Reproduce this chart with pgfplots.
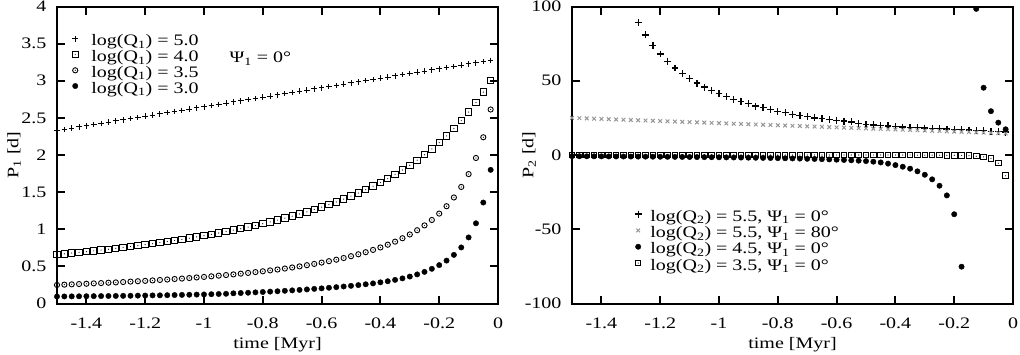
\documentclass[border=0pt]{standalone}
\usepackage{fontspec}
\setmainfont{Liberation Serif}[FakeStretch=1.25]
\usepackage{pgfplots}
\pgfplotsset{compat=1.18}

% gnuplot-like marks: open square / open circle with a dot in the middle
\pgfdeclareplotmark{sqdot}{%
  \pgfpathrectangle{\pgfqpoint{-\pgfplotmarksize}{-\pgfplotmarksize}}{\pgfqpoint{2\pgfplotmarksize}{2\pgfplotmarksize}}%
  \pgfusepathqstroke
  \pgfpathcircle{\pgfpointorigin}{0.6pt}%
  \pgfusepathqfill}
\pgfdeclareplotmark{cdot}{%
  \pgfpathcircle{\pgfpointorigin}{\pgfplotmarksize}%
  \pgfusepathqstroke
  \pgfpathcircle{\pgfpointorigin}{0.6pt}%
  \pgfusepathqfill}

\definecolor{grayx}{RGB}{150,150,150}

\pgfplotsset{
  panel/.style={
    scale only axis, width=441pt, height=297pt,
    xmin=-1.5, xmax=0,
    xtick={-1.4,-1.2,-1,-0.8,-0.6,-0.4,-0.2,0},
    tick align=inside, major tick length=8pt,
    axis line style={line width=2pt},
    major tick style={line width=2pt,black},
    /pgf/number format/assume math mode=true,
    xticklabel style={yshift=-9pt},
    yticklabel style={xshift=-5pt},
    xlabel={time [Myr]},
    xlabel style={at={(axis description cs:0.5,-0.1380)},anchor=center},
    ylabel style={at={(axis description cs:-0.0975,0.5)},anchor=center},
    only marks,
    legend cell align=left,
    legend style={draw=none, fill=none, inner sep=0pt, outer sep=0pt,
      nodes={inner sep=0pt, text height=10.5pt, text depth=4.5pt}},
  },
}

\begin{document}
\fontsize{16}{16}\selectfont
\begin{tikzpicture}
\useasboundingbox (-57pt,-51pt) rectangle (963pt,303.5pt);

\begin{axis}[panel, at={(0pt,0pt)},
  ymin=0, ymax=4, ytick={0,0.5,1,1.5,2,2.5,3,3.5,4},
  ylabel={P\textsubscript{1} [d]},
  legend image code/.code={\path (0pt,0pt) (22pt,8pt);
    \draw[mark repeat=2,mark phase=2,#1] plot coordinates {(0pt,4pt)(6pt,4pt)(22pt,4pt)};},
  legend style={at={(axis description cs:0.0273,0.905)}, anchor=north west, row sep=0pt},
]
\addplot[black, mark=+, mark size=2.8pt, mark options={line width=1pt}] coordinates {
(-1.500,2.330)(-1.475,2.346)(-1.450,2.362)(-1.425,2.378)(-1.400,2.394)(-1.375,2.410)
(-1.350,2.426)(-1.325,2.442)(-1.300,2.458)(-1.275,2.474)(-1.250,2.490)(-1.225,2.506)
(-1.200,2.522)(-1.175,2.538)(-1.150,2.554)(-1.125,2.570)(-1.100,2.586)(-1.075,2.602)
(-1.050,2.618)(-1.025,2.634)(-1.000,2.650)(-0.975,2.666)(-0.950,2.682)(-0.925,2.698)
(-0.900,2.714)(-0.875,2.730)(-0.850,2.746)(-0.825,2.762)(-0.800,2.778)(-0.775,2.794)
(-0.750,2.810)(-0.725,2.826)(-0.700,2.842)(-0.675,2.858)(-0.650,2.874)(-0.625,2.890)
(-0.600,2.906)(-0.575,2.922)(-0.550,2.938)(-0.525,2.954)(-0.500,2.970)(-0.475,2.986)
(-0.450,3.002)(-0.425,3.018)(-0.400,3.034)(-0.375,3.050)(-0.350,3.066)(-0.325,3.082)
(-0.300,3.098)(-0.275,3.114)(-0.250,3.130)(-0.225,3.146)(-0.200,3.162)(-0.175,3.178)
(-0.150,3.194)(-0.125,3.210)(-0.100,3.226)(-0.075,3.242)(-0.050,3.258)(-0.025,3.274)};
\addlegendentry{log(Q\textsubscript{1}) = 5.0}
\addplot[black, mark=sqdot, mark size=3.2pt, mark options={line width=1pt}] coordinates {
(-1.500,0.659)(-1.475,0.669)(-1.450,0.679)(-1.425,0.689)(-1.400,0.699)(-1.375,0.709)
(-1.350,0.720)(-1.325,0.731)(-1.300,0.743)(-1.275,0.755)(-1.250,0.767)(-1.225,0.780)
(-1.200,0.793)(-1.175,0.806)(-1.150,0.820)(-1.125,0.834)(-1.100,0.849)(-1.075,0.864)
(-1.050,0.880)(-1.025,0.897)(-1.000,0.913)(-0.975,0.931)(-0.950,0.949)(-0.925,0.968)
(-0.900,0.988)(-0.875,1.008)(-0.850,1.029)(-0.825,1.051)(-0.800,1.074)(-0.775,1.098)
(-0.750,1.123)(-0.725,1.149)(-0.700,1.176)(-0.675,1.205)(-0.650,1.234)(-0.625,1.265)
(-0.600,1.298)(-0.575,1.332)(-0.550,1.368)(-0.525,1.406)(-0.500,1.446)(-0.475,1.488)
(-0.450,1.533)(-0.425,1.580)(-0.400,1.629)(-0.375,1.682)(-0.350,1.738)(-0.325,1.798)
(-0.300,1.862)(-0.275,1.930)(-0.250,2.003)(-0.225,2.082)(-0.200,2.166)(-0.175,2.257)
(-0.150,2.356)(-0.125,2.463)(-0.100,2.579)(-0.075,2.707)(-0.050,2.847)(-0.025,3.001)};
\addlegendentry{log(Q\textsubscript{1}) = 4.0}
\addplot[black, mark=cdot, mark size=2.6pt, mark options={line width=0.9pt}] coordinates {
(-1.500,0.250)(-1.475,0.254)(-1.450,0.258)(-1.425,0.262)(-1.400,0.266)(-1.375,0.271)
(-1.350,0.275)(-1.325,0.280)(-1.300,0.284)(-1.275,0.289)(-1.250,0.295)(-1.225,0.300)
(-1.200,0.305)(-1.175,0.311)(-1.150,0.317)(-1.125,0.323)(-1.100,0.330)(-1.075,0.336)
(-1.050,0.343)(-1.025,0.351)(-1.000,0.358)(-0.975,0.366)(-0.950,0.375)(-0.925,0.383)
(-0.900,0.392)(-0.875,0.402)(-0.850,0.412)(-0.825,0.423)(-0.800,0.434)(-0.775,0.446)
(-0.750,0.458)(-0.725,0.471)(-0.700,0.485)(-0.675,0.500)(-0.650,0.516)(-0.625,0.533)
(-0.600,0.551)(-0.575,0.570)(-0.550,0.590)(-0.525,0.613)(-0.500,0.637)(-0.475,0.663)
(-0.450,0.691)(-0.425,0.722)(-0.400,0.755)(-0.375,0.792)(-0.350,0.833)(-0.325,0.879)
(-0.300,0.930)(-0.275,0.987)(-0.250,1.052)(-0.225,1.125)(-0.200,1.211)(-0.175,1.310)
(-0.150,1.428)(-0.125,1.570)(-0.100,1.743)(-0.075,1.960)(-0.050,2.239)(-0.025,2.613)};
\addlegendentry{log(Q\textsubscript{1}) = 3.5}
\addplot[black, mark=*, mark size=2.7pt] coordinates {
(-1.500,0.094)(-1.475,0.095)(-1.450,0.096)(-1.425,0.097)(-1.400,0.098)(-1.375,0.099)
(-1.350,0.100)(-1.325,0.101)(-1.300,0.102)(-1.275,0.103)(-1.250,0.104)(-1.225,0.106)
(-1.200,0.107)(-1.175,0.109)(-1.150,0.110)(-1.125,0.112)(-1.100,0.114)(-1.075,0.116)
(-1.050,0.118)(-1.025,0.120)(-1.000,0.122)(-0.975,0.125)(-0.950,0.128)(-0.925,0.131)
(-0.900,0.137)(-0.875,0.141)(-0.850,0.145)(-0.825,0.150)(-0.800,0.155)(-0.775,0.160)
(-0.750,0.165)(-0.725,0.171)(-0.700,0.177)(-0.675,0.183)(-0.650,0.190)(-0.625,0.197)
(-0.600,0.204)(-0.575,0.212)(-0.550,0.220)(-0.525,0.229)(-0.500,0.238)(-0.475,0.248)
(-0.450,0.259)(-0.425,0.271)(-0.400,0.285)(-0.375,0.300)(-0.350,0.318)(-0.325,0.338)
(-0.300,0.363)(-0.275,0.392)(-0.250,0.426)(-0.225,0.467)(-0.200,0.517)(-0.175,0.578)
(-0.150,0.655)(-0.125,0.755)(-0.100,0.890)(-0.075,1.080)(-0.050,1.360)(-0.025,1.800)};
\addlegendentry{log(Q\textsubscript{1}) = 3.0}
\node at (axis cs:-0.808,3.30) {Ψ\textsubscript{1} = 0°};
\end{axis}

\begin{axis}[panel, at={(515pt,0pt)},
  ymin=-100, ymax=100, ytick={-100,-50,0,50,100},
  ylabel={P\textsubscript{2} [d]},
  legend image code/.code={\path (0pt,0pt) (18pt,8pt);
    \draw[mark repeat=2,mark phase=2,#1] plot coordinates {(0pt,4pt)(6pt,4pt)(18pt,4pt)};},
  legend style={at={(axis description cs:0.136,0.0975)}, anchor=south west, row sep=0.6pt},
]
\addplot[black, mark=+, mark size=3.4pt, mark options={line width=1.3pt}] coordinates {
(-1.275,89.4)(-1.250,80.9)(-1.225,73.9)(-1.200,68.0)(-1.175,62.8)(-1.150,58.6)
(-1.125,54.7)(-1.100,51.4)(-1.075,48.4)(-1.050,45.7)(-1.025,43.5)(-1.000,41.4)
(-0.975,39.2)(-0.950,37.4)(-0.925,35.8)(-0.900,34.5)(-0.875,32.9)(-0.850,31.8)
(-0.825,30.6)(-0.800,29.5)(-0.775,28.4)(-0.750,27.5)(-0.725,26.6)(-0.700,25.7)
(-0.675,25.0)(-0.650,24.5)(-0.625,23.9)(-0.600,23.2)(-0.575,22.8)(-0.550,22.3)
(-0.525,21.4)(-0.500,20.7)(-0.475,20.3)(-0.450,19.8)(-0.425,19.6)(-0.400,19.1)
(-0.375,18.8)(-0.350,18.6)(-0.325,18.3)(-0.300,18.1)(-0.275,17.9)(-0.250,17.7)
(-0.225,17.5)(-0.200,17.2)(-0.175,17.0)(-0.150,16.8)(-0.125,16.6)(-0.100,16.3)
(-0.075,16.0)(-0.050,15.7)(-0.025,15.4)};
\addlegendentry{log(Q\textsubscript{2}) = 5.5, Ψ\textsubscript{1} = 0°}
\addplot[grayx, mark=x, mark size=2.6pt, mark options={line width=1pt}] coordinates {
(-1.500,25.00)(-1.475,24.82)(-1.450,24.65)(-1.425,24.47)(-1.400,24.29)(-1.375,24.11)
(-1.350,23.94)(-1.325,23.76)(-1.300,23.58)(-1.275,23.40)(-1.250,23.23)(-1.225,23.05)
(-1.200,22.87)(-1.175,22.69)(-1.150,22.52)(-1.125,22.34)(-1.100,22.16)(-1.075,21.98)
(-1.050,21.81)(-1.025,21.63)(-1.000,21.45)(-0.975,21.27)(-0.950,21.10)(-0.925,20.92)
(-0.900,20.74)(-0.875,20.56)(-0.850,20.39)(-0.825,20.21)(-0.800,20.03)(-0.775,19.85)
(-0.750,19.68)(-0.725,19.50)(-0.700,19.32)(-0.675,19.14)(-0.650,18.97)(-0.625,18.79)
(-0.600,18.61)(-0.575,18.43)(-0.550,18.26)(-0.525,18.08)(-0.500,17.90)(-0.475,17.72)
(-0.450,17.55)(-0.425,17.37)(-0.400,17.19)(-0.375,17.01)(-0.350,16.84)(-0.325,16.66)
(-0.300,16.48)(-0.275,16.30)(-0.250,16.13)(-0.225,15.95)(-0.200,15.77)(-0.175,15.59)
(-0.150,15.42)(-0.125,15.24)(-0.100,15.06)(-0.075,14.88)(-0.050,14.71)(-0.025,14.53)};
\addlegendentry{log(Q\textsubscript{2}) = 5.5, Ψ\textsubscript{1} = 80°}
\addplot[black, mark=*, mark size=2.7pt] coordinates {
(-1.500,-0.80)(-1.475,-0.83)(-1.450,-0.86)(-1.425,-0.89)(-1.400,-0.92)(-1.375,-0.95)
(-1.350,-0.98)(-1.325,-1.01)(-1.300,-1.04)(-1.275,-1.07)(-1.250,-1.10)(-1.225,-1.14)
(-1.200,-1.18)(-1.175,-1.22)(-1.150,-1.26)(-1.125,-1.30)(-1.100,-1.35)(-1.075,-1.40)
(-1.050,-1.45)(-1.025,-1.50)(-1.000,-1.55)(-0.975,-1.61)(-0.950,-1.67)(-0.925,-1.73)
(-0.900,-1.80)(-0.875,-1.87)(-0.850,-1.95)(-0.825,-2.03)(-0.800,-2.12)(-0.775,-2.21)
(-0.750,-2.31)(-0.725,-2.42)(-0.700,-2.54)(-0.675,-2.67)(-0.650,-2.82)(-0.625,-2.98)
(-0.600,-3.15)(-0.575,-3.35)(-0.550,-3.57)(-0.525,-3.82)(-0.500,-4.10)(-0.475,-4.50)
(-0.450,-5.00)(-0.425,-5.80)(-0.400,-6.80)(-0.375,-7.90)(-0.350,-9.20)(-0.325,-11.0)
(-0.300,-13.3)(-0.275,-16.4)(-0.250,-20.7)(-0.225,-27.2)(-0.200,-39.9)(-0.175,-75.2)
(-0.125,98.4)(-0.100,45.3)(-0.075,29.5)(-0.050,21.8)(-0.025,17.3)};
\addlegendentry{log(Q\textsubscript{2}) = 4.5, Ψ\textsubscript{1} = 0°}
\addplot[black, mark=sqdot, mark size=2.8pt, mark options={line width=1pt}] coordinates {
(-1.500,0)(-1.475,0)(-1.450,0)(-1.425,0)(-1.400,0)(-1.375,0)
(-1.350,0)(-1.325,0)(-1.300,0)(-1.275,0)(-1.250,0)(-1.225,0)
(-1.200,0)(-1.175,0)(-1.150,0)(-1.125,0)(-1.100,0)(-1.075,0)
(-1.050,0)(-1.025,0)(-1.000,0)(-0.975,0)(-0.950,0)(-0.925,0)
(-0.900,0)(-0.875,0)(-0.850,0)(-0.825,0)(-0.800,0)(-0.775,0)
(-0.750,0)(-0.725,0)(-0.700,0)(-0.675,0)(-0.650,0)(-0.625,0)
(-0.600,0)(-0.575,0)(-0.550,0)(-0.525,0)(-0.500,0)(-0.475,0)
(-0.450,0)(-0.425,0)(-0.400,0)(-0.375,0)(-0.350,0)(-0.325,-0.1)
(-0.300,-0.1)(-0.275,-0.1)(-0.250,-0.1)(-0.225,-0.2)(-0.200,-0.2)(-0.175,-0.3)
(-0.150,-0.5)(-0.125,-0.8)(-0.100,-1.3)(-0.075,-2.3)(-0.050,-5.5)(-0.025,-14.0)};
\addlegendentry{log(Q\textsubscript{2}) = 3.5, Ψ\textsubscript{1} = 0°}
\end{axis}
\end{tikzpicture}
\end{document}
